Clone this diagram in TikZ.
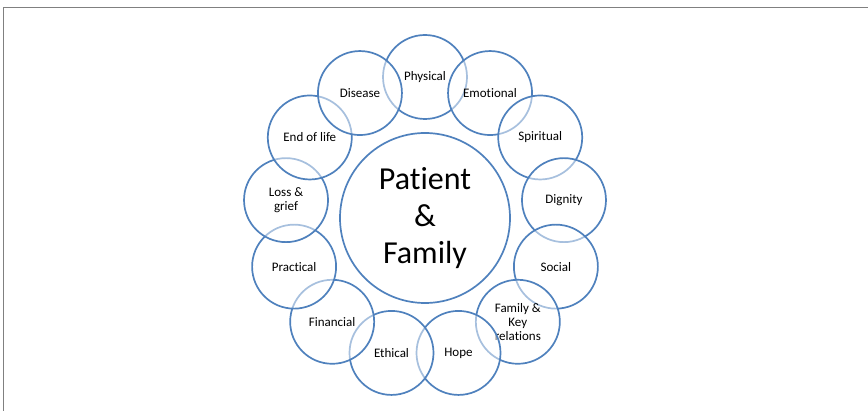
\documentclass[tikz,border=0pt]{standalone}
\usepackage{fontspec}
\setmainfont{Carlito}[Ligatures={NoCommon,NoRare,NoContextual}]
\usepackage{tikz}
\usetikzlibrary{positioning}
\definecolor{ringblue}{HTML}{4F81BD}
\definecolor{framegray}{HTML}{808080}

\begin{document}
\begin{tikzpicture}[
    x=1pt, y=-1pt,
    topic/.style={circle, draw=ringblue, line width=1.7pt, fill=white, fill opacity=0.5,
        text opacity=1, minimum size=84pt, inner sep=0pt, align=center, text=black,
        font=\fontsize{13}{14}\selectfont},
    core/.style={circle, draw=ringblue, line width=1.7pt, fill=white,
        minimum size=170pt, inner sep=0pt, align=center, text=black,
        font=\fontsize{32}{37}\selectfont},
    frame/.style={draw=framegray, line width=1.3pt}
]
\useasboundingbox (0,0) rectangle (868,411);
\draw[frame] (3.5,411) -- (3.5,7.5) -- (868,7.5);

\node (C0) [core] at (425,218) {Patient\\\&\\Family};

% ring of 13 topics, clockwise from the top
\foreach \txt [count=\i from 0] in {Physical, Emotional, Spiritual, Dignity, Social,
    {Family \&\\Key\\relations}, Hope, Ethical, Financial, Practical,
    {Loss \&\\grief}, End of life, Disease}
{
    \node (C\i) [topic] at ({425+140*cos(90-27.6923*\i)}, {217-140*sin(90-27.6923*\i)}) {\txt};
}

\end{tikzpicture}
\end{document}
